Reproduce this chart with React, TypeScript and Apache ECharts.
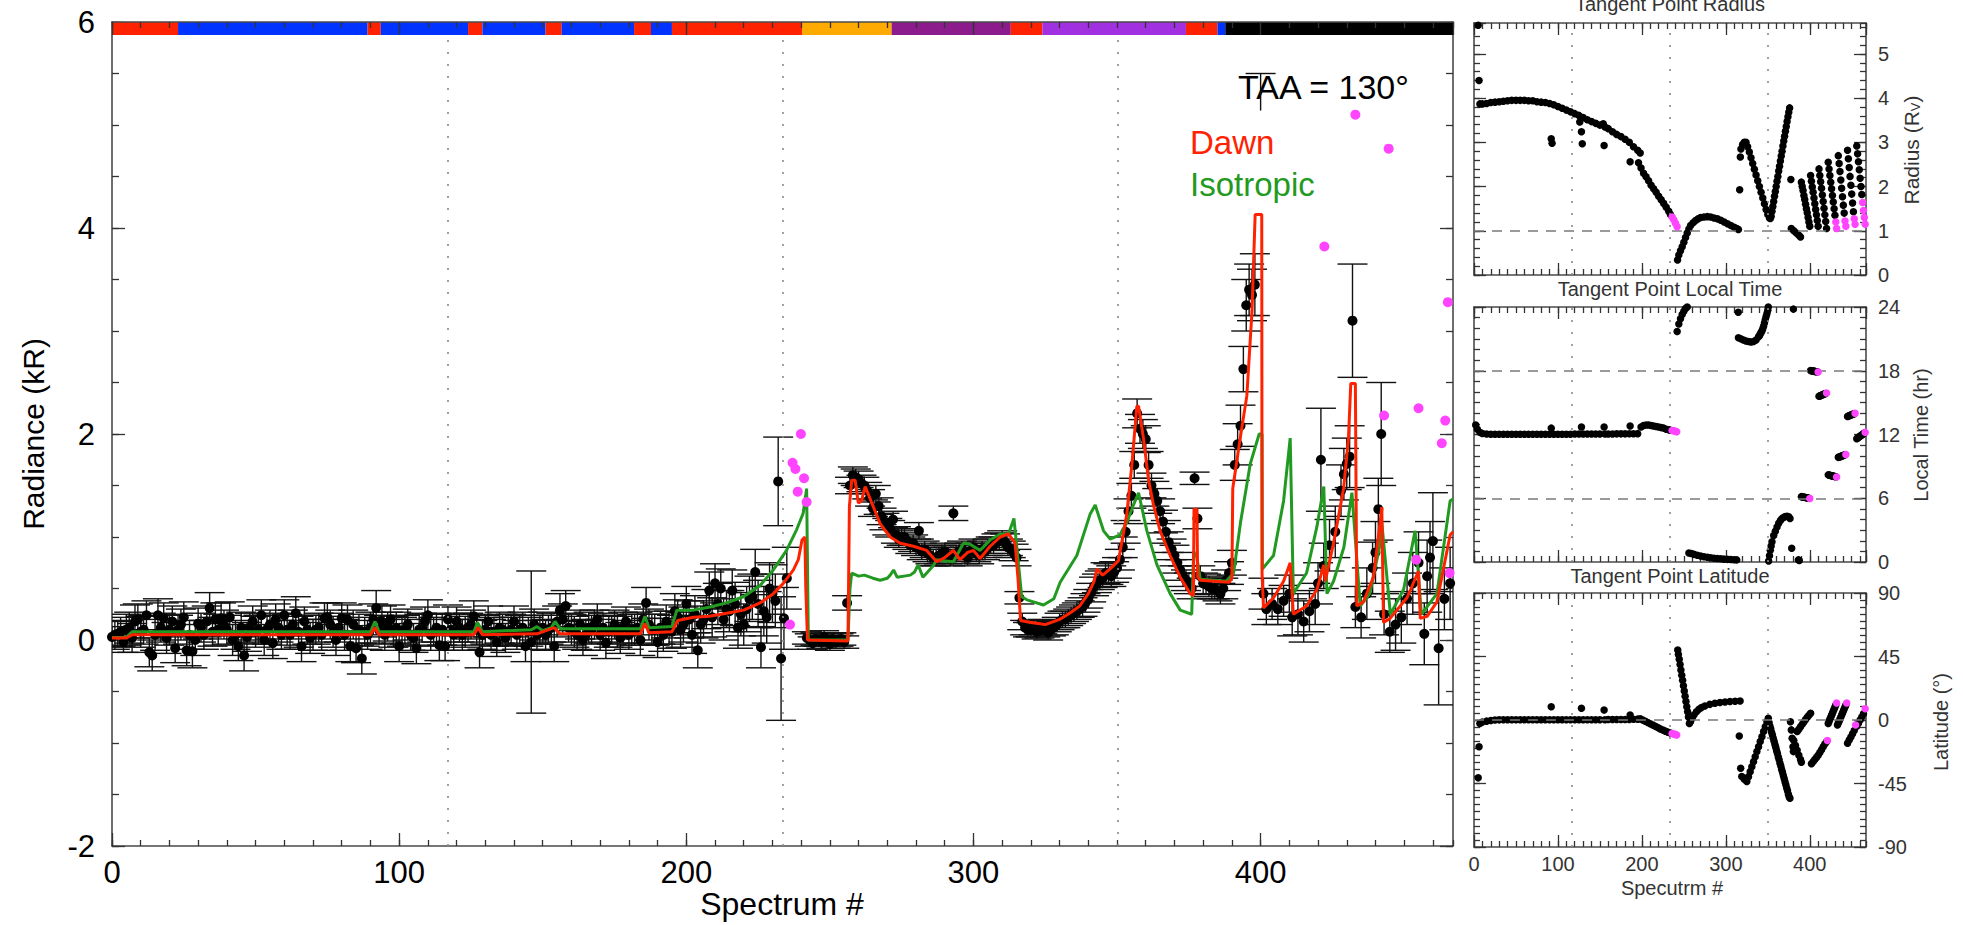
import React, { useEffect, useRef } from "react";
import * as echarts from "echarts";

const SPECTRUM_MAX = 467;
const FONT = "'Liberation Sans', Arial, Helvetica, sans-serif";

// quarter marks of the spectrum sequence
const quarterMarks = [116.75, 233.5, 350.25];

// observing-mode strip along the top of the radiance panel
const modeStart = [0, 23, 89, 93.6, 124, 129, 151, 156.6, 181.8, 187.7, 195, 240.3, 271.5, 313, 324, 374, 385, 387.7];
const modeEnd = [23, 89, 93.6, 124, 129, 151, 156.6, 181.8, 187.7, 195, 240.3, 271.5, 313, 324, 374, 385, 387.7, 467];
const modeColor = ["#ff2200", "#0033ff", "#ff2200", "#0033ff", "#ff2200", "#0033ff", "#ff2200", "#0033ff", "#ff2200", "#0033ff", "#ff2200", "#ffaa00", "#8c1c8c", "#ff2200", "#a030e0", "#ff2200", "#0033ff", "#000000"];

type Obs = [number, number, number];
type Pt = [number, number];

// [spectrum #, radiance kR, 1-sigma error]
const obsEarly: Obs[] = [
  [0, 0.03, 0.1], [2, 0.06, 0.12], [4, -0.02, 0.1], [6, 0.12, 0.15], [8, 0.18, 0.16], [10, 0.08, 0.15], [12, 0.24, 0.14], [13, -0.12, 0.14], [14, -0.15, 0.15], [16, 0.24, 0.16],
  [18, 0.21, 0.15], [20, 0.1, 0.15], [22, -0.08, 0.14], [24, 0.15, 0.15], [26, -0.1, 0.15], [28, -0.11, 0.16], [30, 0.16, 0.15], [32, 0.05, 0.14], [34, 0.31, 0.15], [36, 0.2, 0.16],
  [38, 0.21, 0.15], [40, 0.1, 0.14], [42, 0, 0.15], [44, -0.06, 0.14], [46, -0.15, 0.15], [48, 0.12, 0.14], [50, 0.08, 0.15], [52, 0.24, 0.15], [54, 0.1, 0.14], [56, -0.03, 0.15],
  [58, 0.12, 0.14], [60, 0.24, 0.15], [62, 0.05, 0.14], [64, 0.26, 0.16], [66, -0.06, 0.15], [68, 0.1, 0.14], [70, 0.05, 0.15], [72, 0.12, 0.14], [74, 0.21, 0.15], [76, 0.15, 0.14],
  [78, 0, 0.15], [80, 0.21, 0.15], [82, 0.2, 0.14], [83, -0.06, 0.15], [85, -0.08, 0.14], [87, -0.18, 0.15], [89, 0.05, 0.14], [92, 0.31, 0.17], [94, 0.18, 0.15], [96, 0.13, 0.14],
  [98, 0.08, 0.15], [100, -0.06, 0.15], [102, 0.1, 0.14], [104, 0.05, 0.15], [106, -0.08, 0.15], [108, 0.12, 0.14], [110, 0.24, 0.15], [112, 0.08, 0.14], [114, -0.05, 0.15], [116, -0.06, 0.14],
  [118, 0.1, 0.15], [120, 0.18, 0.14], [122, 0.05, 0.15], [124, 0.12, 0.14], [126, 0.23, 0.15], [128, -0.12, 0.15], [130, 0.1, 0.14], [132, 0.05, 0.15], [134, -0.02, 0.14], [136, 0.1, 0.15],
  [138, 0.08, 0.14], [140, 0.18, 0.15], [142, 0.1, 0.14], [144, -0.06, 0.15], [146, -0.02, 0.69], [148, 0.05, 0.14], [150, 0.12, 0.15], [152, 0.1, 0.14], [154, -0.06, 0.15], [156, 0.29, 0.16],
  [158, 0.33, 0.15], [160, 0.1, 0.15], [162, 0.05, 0.14], [164, 0, 0.15], [166, 0.12, 0.15], [168, 0.15, 0.14], [170, 0.05, 0.15], [172, -0.03, 0.15], [174, 0.1, 0.14], [176, 0.08, 0.15],
  [178, 0.12, 0.15], [180, 0.05, 0.14], [182, 0.1, 0.15], [184, 0, 0.15], [186, 0.36, 0.15], [188, 0.1, 0.15], [190, -0.02, 0.15], [192, 0.05, 0.16], [194, 0.12, 0.16], [196, 0.28, 0.17],
  [198, 0.1, 0.17], [200, 0.35, 0.17], [202, 0.05, 0.18], [204, -0.1, 0.17], [206, 0.2, 0.18], [208, 0.48, 0.18], [210, 0.55, 0.19], [212, 0.5, 0.19], [214, 0.3, 0.18], [216, 0.48, 0.2],
  [218, 0.12, 0.2], [220, 0.15, 0.2], [222, 0.4, 0.22], [224, 0.66, 0.22], [226, -0.07, 0.2], [228, 0.22, 0.25], [230, 0.45, 0.28], [232, 1.54, 0.43], [233, -0.18, 0.6], [234, 0.21, 0.3],
  [235, 0.6, 0.3],
];

// interleaved spectra of the same quiet stretch
const obsEarlyOdd: Obs[] = [
  [1, 0.05, 0.14], [3, 0.08, 0.14], [5, 0.1, 0.15], [7, 0.02, 0.14], [9, 0.2, 0.15], [11, 0.1, 0.14], [15, 0.05, 0.15], [17, 0.12, 0.14], [19, 0.02, 0.15], [21, 0.18, 0.15],
  [23, 0.1, 0.14], [25, 0.22, 0.15], [27, 0.05, 0.14], [29, 0, 0.15], [31, 0.12, 0.14], [33, 0.18, 0.15], [35, 0.08, 0.14], [37, 0.1, 0.15], [39, 0.15, 0.14], [41, 0.22, 0.15],
  [43, 0.05, 0.14], [45, 0.12, 0.15], [47, 0.03, 0.14], [49, 0.18, 0.15], [51, 0.1, 0.14], [53, 0, 0.15], [55, 0.15, 0.14], [57, 0.2, 0.15], [59, 0.05, 0.14], [61, 0.1, 0.15],
  [63, 0.15, 0.14], [65, 0.08, 0.15], [67, 0.18, 0.14], [69, 0.02, 0.15], [71, 0.1, 0.14], [73, 0.05, 0.15], [75, 0.22, 0.14], [77, 0.08, 0.15], [79, 0.12, 0.14], [81, 0.05, 0.15],
  [84, 0.15, 0.14], [86, 0.1, 0.15], [88, 0.08, 0.14], [90, 0.12, 0.15], [91, 0.2, 0.15], [93, 0.1, 0.14], [95, 0.05, 0.15], [97, 0.2, 0.14], [99, 0.12, 0.15], [101, 0.08, 0.14],
  [103, 0.15, 0.15], [105, 0.02, 0.14], [107, 0.1, 0.15], [109, 0.18, 0.14], [111, 0.05, 0.15], [113, 0.12, 0.14], [115, 0.1, 0.15], [117, 0.2, 0.14], [119, 0.05, 0.15], [121, 0.12, 0.14],
  [123, 0.08, 0.15], [125, 0.15, 0.14], [127, 0.1, 0.15], [129, 0.05, 0.14], [131, 0.18, 0.15], [133, 0.08, 0.14], [135, 0.12, 0.15], [137, 0.02, 0.14], [139, 0.1, 0.15], [141, 0.05, 0.14],
  [143, 0.12, 0.15], [145, 0.08, 0.14], [147, 0.15, 0.15], [149, 0.1, 0.14], [151, 0.05, 0.15], [153, 0.12, 0.14], [155, 0.18, 0.15], [157, 0.2, 0.15], [159, 0.12, 0.14], [161, 0.08, 0.15],
  [163, 0.15, 0.14], [165, 0.05, 0.15], [167, 0.1, 0.14], [169, 0.2, 0.15], [171, 0.12, 0.14], [173, 0.08, 0.15], [175, 0.15, 0.14], [177, 0.02, 0.15], [179, 0.18, 0.14], [181, 0.1, 0.15],
  [183, 0.12, 0.15], [185, 0.2, 0.15], [187, 0.15, 0.15], [189, 0.1, 0.15], [191, 0.12, 0.16], [193, 0.18, 0.16], [195, 0.08, 0.16], [197, 0.22, 0.17], [199, 0.15, 0.17], [201, 0.2, 0.18],
  [203, 0.25, 0.18], [205, 0.15, 0.18], [207, 0.3, 0.19], [209, 0.22, 0.19], [211, 0.35, 0.2], [213, 0.2, 0.2], [215, 0.28, 0.2], [217, 0.35, 0.21], [219, 0.25, 0.21], [221, 0.3, 0.22],
  [223, 0.42, 0.22], [225, 0.35, 0.23], [227, 0.28, 0.24], [229, 0.5, 0.25], [231, 0.38, 0.26],
];

const obsShadow: Obs[] = [
  [242, 0.02, 0.06], [243, 0, 0.06], [244, -0.03, 0.06], [245, 0.01, 0.06], [246, 0, 0.06], [247, -0.02, 0.06], [248, 0.03, 0.06], [249, 0, 0.06], [250, -0.04, 0.06], [251, 0.01, 0.06],
  [252, -0.02, 0.06], [253, 0, 0.06], [254, 0.01, 0.06], [255, -0.02, 0.06], [256, 0.36, 0.07],
];

const obsPlateau: Obs[] = [
  [257, 1.5, 0.08], [258, 1.6, 0.08], [259, 1.58, 0.08], [260, 1.56, 0.08], [261, 1.52, 0.08], [262, 1.5, 0.08], [263, 1.45, 0.08], [264, 1.38, 0.08], [265, 1.28, 0.08], [266, 1.42, 0.08],
  [267, 1.3, 0.08], [268, 1.2, 0.08], [269, 1.15, 0.08], [270, 1.1, 0.08], [271, 1.08, 0.08], [272, 1.17, 0.08], [273, 1.02, 0.08], [274, 0.98, 0.08], [275, 1.0, 0.08], [276, 1.0, 0.08],
  [277, 0.96, 0.08], [278, 0.92, 0.08], [279, 0.94, 0.08], [280, 0.9, 0.08], [281, 1.06, 0.08], [282, 0.86, 0.08], [283, 0.88, 0.08], [284, 0.84, 0.08], [285, 0.82, 0.08], [286, 0.8, 0.08],
  [287, 0.8, 0.08], [288, 0.82, 0.08], [289, 0.84, 0.08], [290, 0.86, 0.08], [291, 0.82, 0.08], [292, 0.8, 0.08], [293, 1.23, 0.07], [294, 0.84, 0.08], [295, 0.86, 0.08], [296, 0.88, 0.08],
  [297, 0.82, 0.08], [298, 0.8, 0.08], [299, 0.86, 0.08], [300, 0.9, 0.08], [301, 0.84, 0.08], [302, 0.82, 0.08], [303, 0.88, 0.08], [304, 0.86, 0.08], [305, 0.9, 0.08], [306, 0.92, 0.08],
  [307, 0.92, 0.08], [308, 0.95, 0.08], [309, 0.96, 0.08], [310, 0.98, 0.08], [311, 0.95, 0.08], [312, 0.9, 0.08], [313, 0.88, 0.08], [314, 0.85, 0.08], [315, 0.8, 0.08], [316, 0.41, 0.06],
  [317, 0.18, 0.08], [318, 0.12, 0.07], [319, 0.1, 0.07], [320, 0.1, 0.07], [321, 0.12, 0.07], [322, 0.08, 0.07], [323, 0.09, 0.07], [324, 0.13, 0.07], [325, 0.1, 0.07], [326, 0.07, 0.07],
  [327, 0.11, 0.07], [328, 0.12, 0.07], [329, 0.15, 0.07], [330, 0.18, 0.08],
];

const obsLimb: Obs[] = [
  [331, 0.2, 0.08], [332, 0.2, 0.08], [333, 0.22, 0.08], [334, 0.24, 0.08], [335, 0.26, 0.08], [336, 0.28, 0.08], [337, 0.3, 0.08], [338, 0.32, 0.09], [339, 0.36, 0.09], [340, 0.4, 0.09],
  [341, 0.46, 0.09], [342, 0.52, 0.09], [343, 0.55, 0.09], [344, 0.58, 0.09], [345, 0.6, 0.09], [346, 0.65, 0.1], [347, 0.64, 0.1], [348, 0.62, 0.1], [349, 0.66, 0.1], [350, 0.7, 0.1],
  [351, 0.78, 0.1], [352, 0.9, 0.1], [353, 1.05, 0.11], [354, 1.25, 0.12], [355, 1.4, 0.12], [356, 1.7, 0.13], [357, 2.2, 0.14], [358, 2.05, 0.14], [359, 2.0, 0.14], [360, 1.95, 0.13],
  [361, 1.7, 0.13], [362, 1.5, 0.12], [363, 1.42, 0.12], [364, 1.35, 0.12], [365, 1.25, 0.12], [366, 1.15, 0.11], [367, 1.05, 0.11], [368, 0.95, 0.1], [369, 0.88, 0.1], [370, 0.82, 0.1],
  [371, 0.75, 0.1], [372, 0.68, 0.1], [373, 0.62, 0.1], [374, 0.58, 0.1], [375, 0.55, 0.1], [376, 0.5, 0.1], [377, 1.57, 0.06], [378, 1.18, 0.1], [379, 0.62, 0.1], [380, 0.55, 0.1],
  [381, 0.54, 0.1], [382, 0.52, 0.1], [383, 0.5, 0.1], [384, 0.5, 0.1], [385, 0.48, 0.1], [386, 0.45, 0.1], [387, 0.5, 0.1], [388, 0.58, 0.1], [389, 0.65, 0.11], [390, 0.75, 0.12],
  [391, 1.7, 0.15], [392, 1.9, 0.2], [393, 2.08, 0.2], [394, 2.63, 0.22], [395, 3.25, 0.25], [396, 3.4, 0.25], [397, 3.35, 0.25], [398, 3.45, 0.3], [401, 0.45, 0.15], [402, 0.3, 0.15],
  [404, 0.35, 0.15], [406, 0.3, 0.15], [408, 0.38, 0.15], [410, 0.45, 0.18], [411, 0.22, 0.18], [413, 0.25, 0.2], [415, 0.18, 0.2], [417, 0.28, 0.2], [419, 0.35, 0.2], [420, 0.55, 0.2],
  [421, 1.75, 0.5], [422, 0.72, 0.22], [424, 0.92, 0.25], [426, 1.05, 0.25], [428, 1.45, 0.25], [429, 1.61, 0.25], [430, 1.71, 0.25], [431, 1.78, 0.3], [432, 3.1, 0.55], [433, 0.32, 0.2],
  [435, 0.22, 0.2], [437, 0.45, 0.25], [439, 0.7, 0.25], [440, 0.85, 0.3], [441, 1.27, 0.3], [442, 2.0, 0.5], [443, 0.25, 0.2], [445, 0.08, 0.2], [447, 0.15, 0.25], [449, 0.22, 0.25],
  [451, 0.4, 0.25], [453, 0.55, 0.3], [455, 0.75, 0.3], [457, 0.06, 0.3], [458, 0.62, 0.35], [459, 0.8, 0.35], [460, 0.96, 0.47], [462, -0.08, 0.55], [464, 0.4, 0.3], [466, 0.55, 0.35],
];

// bar segment whose point lies off the plotted range: [low, high] at spectrum 400
const strayBars: Pt[] = [[5.14, 5.5]];
const strayBarSpectra = [400];

// spectra flagged in magenta: [spectrum #, radiance kR]
const obsFlagged: Pt[] = [
  [236.1, 0.15], [237, 1.72], [238, 1.66], [238.8, 1.44], [239.9, 2.0], [241, 1.57], [241.9, 1.34], [422.2, 3.82], [433, 5.1], [443, 2.18],
  [444.6, 4.77], [454.2, 0.78], [455, 2.25], [463.1, 1.91], [464.3, 2.13], [465.2, 3.28], [465.8, 0.65],
];

// model brightness, dawn-enhanced source
const dawnModel: Pt[] = [
  [0, 0.02], [5, 0.02], [7, 0.05], [90, 0.05], [91.5, 0.12], [93, 0.05], [126, 0.05], [127.5, 0.12], [129, 0.05], [148, 0.06], [154, 0.12], [156, 0.06], [184, 0.06], [185.6, 0.16], [187, 0.07],
  [195, 0.08], [197, 0.19], [202.5, 0.22], [208, 0.23], [214, 0.26], [220, 0.29], [225.7, 0.36], [230.3, 0.45], [233.8, 0.55], [237.3, 0.68], [239, 0.78], [240.3, 0.97], [241.3, 1.0],
  [241.6, 0.52], [242.2, 0.0], [256.3, -0.01], [256.8, 1.3], [257.6, 1.55], [258.8, 1.55], [259.9, 1.33], [261, 1.35], [262.3, 1.49], [264.6, 1.33], [267.5, 1.13], [271, 1.0], [274.5, 0.94],
  [279.1, 0.91], [283.7, 0.87], [287.2, 0.76], [290, 0.8], [293, 0.87], [295.3, 0.78], [298, 0.85], [300, 0.87], [302.3, 0.79], [305.8, 0.91], [309.3, 1.0], [312.2, 1.03], [314.5, 0.94],
  [315.5, 0.6], [316.4, 0.19], [320, 0.17], [325, 0.15], [330, 0.2], [334, 0.27], [337, 0.33], [340, 0.45], [342, 0.57], [343, 0.69], [345, 0.63], [347.6, 0.69], [350.5, 0.77], [353.4, 1.22],
  [355.2, 1.71], [356.9, 2.27], [357.5, 2.27], [359.2, 1.96], [361, 1.55], [362.7, 1.31], [365, 1.06], [368.5, 0.82], [372, 0.61], [375.5, 0.45], [376.6, 0.43], [376.8, 1.27], [377.8, 1.27],
  [378.1, 0.61], [379, 0.58], [389, 0.56], [390, 0.6], [390.3, 1.47], [392.9, 1.96], [395.2, 2.37], [397, 3.19], [398.1, 4.13], [400.4, 4.13], [400.5, 0.65], [401, 0.31], [404.5, 0.41],
  [408, 0.57], [410.3, 0.75], [411.4, 0.25], [416, 0.33], [419.6, 0.49], [422, 0.73], [422.5, 0.57], [425.4, 0.94], [428.9, 1.47], [430.6, 1.96], [431.4, 2.49], [433, 2.49], [433.5, 0.33],
  [435.8, 0.37], [439.3, 0.61], [441.6, 1.14], [442.2, 1.29], [442.8, 0.17], [445.1, 0.21], [451, 0.41], [455, 0.67], [455.6, 0.21], [458, 0.23], [461.4, 0.37], [466, 1.02], [467, 1.05],
];

// model brightness, isotropic source
const isoModel: Pt[] = [
  [0, 0.025], [5, 0.025], [7, 0.08], [90, 0.08], [91.6, 0.18], [93, 0.08], [126, 0.08], [127.3, 0.17], [129, 0.08], [146, 0.1], [148, 0.13], [150, 0.09], [153, 0.12], [154.3, 0.18], [156, 0.11],
  [184, 0.11], [185.6, 0.23], [187, 0.12], [195, 0.13], [196.7, 0.29], [202.5, 0.29], [208.3, 0.32], [214, 0.36], [219.9, 0.42], [225.7, 0.53], [230.3, 0.68], [234.9, 0.87], [238.4, 1.07],
  [240.7, 1.23], [241.9, 1.47], [242.5, 0.0], [256.3, 0.0], [257, 0.5], [257.6, 0.65], [260, 0.62], [262, 0.63], [265, 0.6], [267.5, 0.58], [270, 0.6], [271, 0.63], [272.2, 0.68], [273.4, 0.61],
  [278, 0.63], [279.5, 0.66], [280.7, 0.73], [282.4, 0.61], [286, 0.72], [287.2, 0.78], [289.5, 0.77], [293, 0.76], [296.5, 0.94], [298.8, 0.93], [302.3, 0.87], [305.8, 0.97], [309.3, 1.03],
  [312.2, 1.03], [314.1, 1.18], [316.8, 0.42], [318.6, 0.39], [324.4, 0.34], [328, 0.4], [330.2, 0.56], [336, 0.82], [340.6, 1.22], [342.4, 1.31], [345.3, 1.06], [347.6, 0.98], [351, 1.02],
  [353.4, 1.14], [355.7, 1.31], [357.5, 1.43], [360.4, 1.06], [363.9, 0.73], [368.5, 0.45], [372, 0.29], [376, 0.25], [376.7, 0.86], [377.8, 0.8], [379, 0.59], [388, 0.57], [390.6, 0.65],
  [393, 1.14], [396.4, 1.71], [399.5, 2.0], [400.5, 2.0], [400.6, 0.69], [404.5, 0.82], [408, 1.35], [410.3, 1.96], [411.4, 0.45], [416, 0.65], [419.6, 1.1], [422, 1.49], [423.1, 0.45],
  [425.4, 0.57], [429, 0.9], [431.8, 1.43], [434.7, 0.33], [438, 0.45], [441.7, 0.94], [442.2, 1.14], [445.2, 0.25], [449.8, 0.49], [453.8, 1.06], [456, 0.25], [461.4, 0.45], [466, 1.35], [467, 1.37],
];

// tangent point radius (planet radii)
const radiusBlack: Pt[] = [
  [5, 5.65], [6, 4.4], [7, 3.87], [10, 3.87], [15, 3.88], [20, 3.9], [25, 3.91], [30, 3.92], [35, 3.93], [40, 3.94], [45, 3.95], [50, 3.95], [55, 3.95], [60, 3.95], [65, 3.94], [70, 3.94],
  [75, 3.92], [80, 3.91], [85, 3.9], [90, 3.88], [92, 3.08], [93, 2.98], [95, 3.85], [100, 3.81], [105, 3.77], [110, 3.73], [115, 3.69], [120, 3.65], [125, 3.61], [126, 3.46], [128, 3.24],
  [129, 2.97], [130, 3.56], [135, 3.51], [140, 3.47], [145, 3.43], [150, 3.39], [154, 3.42], [155, 2.93], [156, 3.35], [160, 3.31], [165, 3.24], [170, 3.18], [175, 3.13], [180, 3.07],
  [185, 3.0], [186, 2.56], [190, 2.9], [195, 2.82], [196, 2.54], [198, 2.76], [199, 2.42], [202, 2.3], [205, 2.22], [208, 2.13], [211, 2.03], [214, 1.95], [217, 1.87], [220, 1.78],
  [223, 1.7], [226, 1.62], [229, 1.53], [232, 1.44], [234, 1.37],
  [242.5, 0.34], [244, 0.45], [246, 0.55], [248, 0.64], [250, 0.74], [252, 0.85], [254, 0.95], [256, 1.04], [258, 1.12], [261, 1.18], [264, 1.23], [267, 1.27], [270, 1.3], [274, 1.31],
  [278, 1.32], [282, 1.31], [286, 1.29], [290, 1.27], [294, 1.24], [298, 1.2], [302, 1.16], [306, 1.12], [310, 1.08], [313, 1.05], [315, 1.03], [316.5, 1.93], [317.3, 2.67],
  [318, 2.85], [320, 2.95], [322, 3.0], [324, 3.0], [326, 2.9], [328, 2.78], [330, 2.65], [332, 2.52], [334, 2.39], [336, 2.26], [338, 2.13], [340, 2.0], [342, 1.87], [344, 1.74],
  [346, 1.61], [348, 1.48], [350, 1.37], [352, 1.29], [353, 1.28], [354, 1.33], [355, 1.44], [356, 1.55], [357, 1.66], [358, 1.78], [359, 1.89], [360, 2.0], [361, 2.12], [362, 2.23],
  [363, 2.35], [364, 2.46], [365, 2.58], [366, 2.69], [367, 2.8], [368, 2.92], [369, 3.03], [370, 3.14], [371, 3.25], [372, 3.36], [373, 3.47], [374, 3.58], [375, 3.68], [376, 3.78],
  [377.5, 2.16], [378, 1.05], [381, 1.0], [384, 0.95], [387, 0.9], [389, 0.86],
  [390, 2.1], [391, 2.0], [392, 1.91], [393, 1.8], [394, 1.71], [395, 1.6], [396, 1.5], [397, 1.41], [398, 1.3], [399, 1.2], [400, 1.1],
  [401, 2.25], [402, 2.12], [403, 1.99], [404, 1.87], [405, 1.74], [406, 1.61], [407, 1.48], [408, 1.36], [409, 1.23], [410, 1.1],
  [411, 2.4], [412, 2.25], [413, 2.11], [414, 1.96], [415, 1.81], [416, 1.66], [417, 1.51], [418, 1.36], [419, 1.21], [420, 1.05],
  [422, 2.55], [423, 2.4], [424, 2.25], [425, 2.1], [426, 1.95], [427, 1.8], [428, 1.65], [429, 1.5], [430, 1.35],
  [434, 2.7], [435, 2.52], [436, 2.34], [437, 2.15], [438, 1.96], [439, 1.77], [440, 1.58], [441, 1.4],
  [445, 2.82], [446, 2.63], [447, 2.43], [448, 2.23], [449, 2.03], [450, 1.83], [451, 1.63], [452, 1.43],
  [456, 2.92], [457, 2.74], [458, 2.56], [459, 2.38], [460, 2.19], [461, 2.0], [462, 1.82],
];
const radiusFlagged: Pt[] = [
  [236, 1.31], [238, 1.25], [240, 1.17], [242, 1.09], [431, 1.2], [432, 1.05], [442, 1.22], [443, 1.1], [453, 1.27], [454, 1.15], [463, 1.64], [464, 1.46], [465, 1.3], [466, 1.15],
];

// tangent point local time (hr)
const localTimeBlack: Pt[] = [
  [2, 12.9], [4, 12.5], [7, 12.2], [10, 12.1], [15, 12.05], [20, 12.03], [25, 12.02], [30, 12.02], [35, 12.02], [40, 12.02], [45, 12.02], [50, 12.02], [55, 12.02], [60, 12.02], [65, 12.02],
  [70, 12.02], [75, 12.03], [80, 12.03], [85, 12.03], [90, 12.03], [92, 12.6], [95, 12.03], [100, 12.03], [105, 12.03], [110, 12.03], [115, 12.03], [120, 12.04], [125, 12.04], [128, 12.7],
  [130, 12.04], [135, 12.04], [140, 12.04], [145, 12.05], [150, 12.05], [155, 12.7], [156, 12.05], [160, 12.05], [165, 12.05], [170, 12.06], [175, 12.06], [180, 12.06], [185, 12.07],
  [186, 12.8], [190, 12.07], [195, 12.08],
  [199, 12.7], [202, 12.85], [205, 12.9], [208, 12.9], [211, 12.85], [214, 12.8], [217, 12.75], [220, 12.7], [223, 12.65], [226, 12.6], [229, 12.5], [232, 12.45], [234, 12.4],
  [242, 21.7], [244, 22.4], [246, 22.9], [248, 23.3], [250, 23.6], [252, 23.85], [254, 24.0],
  [256, 0.85], [259, 0.8], [262, 0.72], [266, 0.64], [270, 0.57], [274, 0.5], [278, 0.45], [282, 0.4], [286, 0.36], [290, 0.33], [294, 0.3], [298, 0.27], [302, 0.25], [306, 0.23], [310, 0.21], [313, 0.2],
  [314.8, 23.5],
  [315, 21.1], [318, 21.0], [321, 20.9], [324, 20.8], [327, 20.75], [330, 20.7], [333, 20.75], [336, 20.9], [339, 21.2], [340, 21.3], [341, 21.45], [342, 21.6], [343, 21.75], [344, 21.95],
  [345, 22.2], [346, 22.5], [347, 22.8], [348, 23.1], [349, 23.4], [350, 23.7], [350.6, 24.0],
  [351, 0.1], [352, 0.6], [353, 1.1], [354, 1.5], [355, 1.9], [357, 2.5], [359, 2.9], [361, 3.3], [363, 3.65], [365, 3.9], [367, 4.1], [369, 4.2], [371, 4.28], [373, 4.3], [375, 4.25], [376.5, 4.1],
  [378.5, 1.3], [380.5, 23.8], [386.4, 0.2], [387.5, 0.15],
  [390, 6.15], [391, 6.13], [392, 6.12], [393, 6.1], [394, 6.09], [395, 6.07], [396, 6.05], [397, 6.04], [398, 6.02], [399, 6.0],
  [401, 18.02], [402, 18.0], [403, 17.99], [404, 17.97], [405, 17.96], [406, 17.94], [407, 17.93], [408, 17.91], [409, 17.9],
  [411, 15.6], [412, 15.63], [413, 15.66], [414, 15.7], [415, 15.73], [416, 15.76], [417, 15.8], [418, 15.83], [419, 15.86],
  [422, 8.2], [423, 8.18], [424, 8.16], [425, 8.14], [426, 8.12], [427, 8.1], [428, 8.08], [429, 8.06], [430, 8.04], [431, 8.02],
  [434, 9.85], [435, 9.88], [436, 9.91], [437, 9.94], [438, 9.97], [439, 10.0], [440, 10.03], [441, 10.06], [442, 10.09],
  [445, 13.7], [446, 13.73], [447, 13.76], [448, 13.8], [449, 13.83], [450, 13.86], [451, 13.9], [452, 13.93], [453, 13.96],
  [456, 11.6], [457, 11.66], [458, 11.72], [459, 11.78], [460, 11.84], [461, 11.9], [462, 11.96], [463, 12.02], [464, 12.08], [465, 12.14],
];
const localTimeFlagged: Pt[] = [
  [236, 12.38], [238, 12.35], [240, 12.3], [241.5, 12.25], [400, 5.98], [410, 17.88], [420, 15.9], [432, 8.0], [443, 10.12], [454, 14.0], [466, 12.2],
];

// tangent point latitude (deg)
const latitudeBlack: Pt[] = [
  [5, -41], [6, -19], [7, -2.4], [10, -1.5], [15, -0.8], [20, -0.3], [25, 0], [30, 0.1], [35, 0.2], [40, 0.2], [45, 0.2], [50, 0.2], [55, 0.2], [60, 0.2], [65, 0.2], [70, 0.2], [75, 0.2],
  [80, 0.2], [85, 0.2], [90, 0.2], [92, 9.4], [95, 0.2], [100, 0.2], [105, 0.2], [110, 0.2], [115, 0.2], [120, 0.2], [125, 0.2], [128, 8.3], [130, 0.2], [135, 0.2], [140, 0.2], [145, 0.2],
  [150, 0.2], [155, 7.1], [156, 0.2], [160, 0.3], [165, 0.3], [170, 0.3], [175, 0.3], [180, 0.3], [185, 0.4], [186, 3.5], [190, 0.5], [195, 0.6],
  [198, 0.8], [201, 0], [204, -0.9], [207, -1.8], [210, -2.7], [213, -3.6], [216, -4.5], [219, -5.4], [222, -6.3], [225, -7.1], [228, -7.9], [231, -8.6], [234, -9.2],
  [242.7, 49.6], [243.5, 46.5], [244.5, 43], [245.5, 39.3], [246.5, 35.5], [247.5, 31.8], [248.5, 28.1], [249.5, 24.3], [250.5, 20.6], [251.5, 16.8], [252.5, 13.1], [253.5, 9.4],
  [254.5, 5.8], [255.5, 2.1], [256.6, -2.4], [258, -1], [260, 1.5], [262, 3.5], [265, 5.9], [268, 7.6], [271, 8.8], [275, 9.9], [281, 11.1], [287, 11.9], [293, 12.4], [299, 12.8],
  [305, 13.1], [311, 13.3], [317, 13.5],
  [316, -11.3], [317.7, -34.2],
  [319, -40], [322, -42], [325, -43.6], [327, -40.2], [329, -36.6], [331, -33.1], [333, -29.5], [335, -26.0], [337, -22.4], [339, -18.9], [341, -15.3], [343, -11.8], [345, -8.2],
  [347, -4.7], [349, -1.2], [350.6, 1.2], [351.5, -1.8], [352.5, -4.2], [353.5, -6.2], [354.5, -8.6], [355.5, -10.6], [356.5, -13.0], [357.5, -15.0], [358.5, -17.4], [359.5, -19.4],
  [360.5, -21.8], [361.5, -23.8], [362.5, -26.2], [363.5, -28.2], [364.5, -30.6], [365.5, -32.6], [366.5, -35.0], [367.5, -37.0], [368.5, -39.4], [369.5, -41.4], [370.5, -43.8],
  [371.5, -45.8], [372.5, -48.2], [373.5, -50.2], [374.5, -52.6], [375.5, -54.6], [376.4, -55.5],
  [377, -1.2], [378, -7], [379, -13], [380, -19], [380.5, -22.4],
  [381, -14.6], [383, -18], [385, -21.5], [387, -25], [389, -28], [390, -29.9],
  [385, -8.2], [387, -6.5], [389, -4.8], [391, -3.1], [393, -1.4], [395, 0.3], [397, 2], [399, 3.4], [401, 4.7],
  [402, -31], [404, -29.5], [406, -28], [408, -26.5], [410, -25], [412, -23], [414, -21], [416, -19], [418, -17], [420, -15.5],
  [422, -2.4], [423, -1], [424, 0.5], [425, 2], [426, 3.4], [427, 4.8], [428, 6.3], [429, 7.7], [430, 9.2], [431, 10.6],
  [433, -3.6], [434, -2.2], [435, -0.8], [436, 0.7], [437, 2.1], [438, 3.5], [439, 5], [440, 6.4], [441, 7.8], [442, 9.3], [443, 10.7],
  [445, -16.5], [447, -14.2], [449, -12], [451, -9.8], [453, -7.5], [456, -4.5], [458, -2.3], [460, 0], [462, 2.2], [464, 4.5],
];
const latitudeFlagged: Pt[] = [
  [236, -9.6], [238, -10], [240, -10.3], [241.5, -10.6], [421, -14.5], [432, 12], [444, 12.1], [454.6, -3.6], [466, 8],
];

const AXIS_LINE = { color: "#4a4a4a", width: 1.6 };
const TICK_STYLE = { color: "#333", width: 1.3 };

function axisPair(grid: number, pos: string, min: number, max: number, major: number, minor: number, majorLen: number, minorLen: number, label: any, z: number) {
  const common = { type: "value", gridIndex: grid, position: pos, min, max, splitLine: { show: false }, z };
  return [
    {
      ...common,
      interval: major,
      axisLine: { show: true, onZero: false, lineStyle: AXIS_LINE },
      axisTick: { show: true, inside: true, length: majorLen, lineStyle: TICK_STYLE },
      axisLabel: label ?? { show: false },
    },
    {
      ...common,
      interval: minor,
      axisLine: { show: false, onZero: false },
      axisTick: { show: true, inside: true, length: minorLen, lineStyle: TICK_STYLE },
      axisLabel: { show: false },
    },
  ];
}

const mainLabel = { show: true, fontSize: 31, fontFamily: FONT, color: "#000" };
const panelLabel = { show: true, fontSize: 20, fontFamily: FONT, color: "#333" };

function buildOption() {
  const grids = [
    { left: 112, top: 22, width: 1341, height: 824 },
    { left: 1474, top: 23, width: 392, height: 252 },
    { left: 1474, top: 307, width: 392, height: 255 },
    { left: 1474, top: 593, width: 392, height: 254 },
  ];

  const panelY = [
    { min: 0, max: 5.7, major: 1, minor: 0.2, showMax: false },
    { min: 0, max: 24, major: 6, minor: 1, showMax: true },
    { min: -90, max: 90, major: 45, minor: 5, showMax: true },
  ];

  const xAxis: any[] = [
    ...axisPair(0, "bottom", 0, SPECTRUM_MAX, 100, 10, 13, 6, { ...mainLabel, margin: 11, showMaxLabel: false }, 1),
    ...axisPair(0, "top", 0, SPECTRUM_MAX, 100, 10, 13, 6, null, 10),
  ];
  const yAxis: any[] = [
    ...axisPair(0, "left", -2, 6, 2, 0.5, 13, 7, { ...mainLabel, margin: 17 }, 1),
    ...axisPair(0, "right", -2, 6, 2, 0.5, 13, 7, null, 1),
  ];
  panelY.forEach((p, i) => {
    const g = i + 1;
    const bottomLabel = g === 3 ? { ...panelLabel, margin: 7, showMaxLabel: false } : null;
    xAxis.push(
      ...axisPair(g, "bottom", 0, SPECTRUM_MAX, 100, 10, 12, 6, bottomLabel, 1),
      ...axisPair(g, "top", 0, SPECTRUM_MAX, 100, 10, 12, 6, null, 1),
    );
    yAxis.push(
      ...axisPair(g, "left", p.min, p.max, p.major, p.minor, 12, 6, null, 1),
      ...axisPair(g, "right", p.min, p.max, p.major, p.minor, 12, 6, { ...panelLabel, margin: 12, showMaxLabel: p.showMax }, 1),
    );
  });

  const dotted = { type: [2, 10], color: "#8a8a8a", width: 1.6 };
  const dashed = { type: [10, 8], color: "#7a7a7a", width: 1.6 };
  const marks = (hLines: number[]) => ({
    silent: true,
    symbol: "none",
    label: { show: false },
    animation: false,
    data: [
      ...quarterMarks.map((v) => ({ xAxis: v, lineStyle: dotted })),
      ...hLines.map((v) => ({ yAxis: v, lineStyle: dashed })),
    ],
  });

  const allObs = [...obsEarly, ...obsEarlyOdd, ...obsShadow, ...obsPlateau, ...obsLimb];
  const errorBars = [
    ...allObs.map(([x, y, e]) => [x, y - e, y + e, 1]),
    ...strayBarSpectra.map((x, i) => [x, strayBars[i][0], strayBars[i][1], 2]),
  ];

  const scatter = (grid: number, data: Pt[], color: string, size: number, z: number, markLine?: any) => ({
    type: "scatter",
    xAxisIndex: grid * 4,
    yAxisIndex: grid * 4,
    data,
    symbol: "circle",
    symbolSize: size,
    itemStyle: { color, opacity: 1 },
    silent: true,
    z,
    ...(markLine ? { markLine } : {}),
  });

  const series: any[] = [
    {
      type: "custom",
      xAxisIndex: 0,
      yAxisIndex: 0,
      z: 3,
      silent: true,
      clip: true,
      data: errorBars,
      encode: { x: 0, y: [1, 2] },
      renderItem: (_params: any, api: any) => {
        const x = api.value(0);
        const lo = api.coord([x, api.value(1)]);
        const hi = api.coord([x, api.value(2)]);
        const half = 15;
        const style = { stroke: "#111", lineWidth: 1.4 };
        const children: any[] = [
          { type: "line", shape: { x1: lo[0], y1: lo[1], x2: hi[0], y2: hi[1] }, style },
          { type: "line", shape: { x1: hi[0] - half, y1: hi[1], x2: hi[0] + half, y2: hi[1] }, style },
        ];
        if (api.value(3) !== 2) {
          children.push({ type: "line", shape: { x1: lo[0] - half, y1: lo[1], x2: lo[0] + half, y2: lo[1] }, style });
        }
        return { type: "group", children };
      },
    },
    scatter(0, allObs.map(([x, y]) => [x, y] as Pt), "#000", 10, 4, marks([])),
    {
      type: "line",
      xAxisIndex: 0,
      yAxisIndex: 0,
      data: isoModel,
      showSymbol: false,
      silent: true,
      z: 5,
      lineStyle: { color: "#229a22", width: 3 },
    },
    {
      type: "line",
      xAxisIndex: 0,
      yAxisIndex: 0,
      data: dawnModel,
      showSymbol: false,
      silent: true,
      z: 6,
      lineStyle: { color: "#ff2200", width: 3 },
    },
    scatter(0, obsFlagged, "#ff44ff", 10, 7),
    {
      type: "custom",
      xAxisIndex: 0,
      yAxisIndex: 0,
      z: 8,
      silent: true,
      data: modeStart.map((s, i) => [s, modeEnd[i], i]),
      renderItem: (_params: any, api: any) => {
        const a = api.coord([api.value(0), 6]);
        const b = api.coord([api.value(1), 6]);
        return {
          type: "rect",
          shape: { x: a[0], y: a[1], width: b[0] - a[0], height: 13 },
          style: { fill: modeColor[api.value(2)] },
        };
      },
    },
    scatter(1, radiusBlack, "#000", 7.5, 4, marks([1])),
    scatter(1, radiusFlagged, "#ff44ff", 7.5, 5),
    scatter(2, localTimeBlack, "#000", 7.5, 4, marks([6, 18])),
    scatter(2, localTimeFlagged, "#ff44ff", 7.5, 5),
    scatter(3, latitudeBlack, "#000", 7.5, 4, marks([0])),
    scatter(3, latitudeFlagged, "#ff44ff", 7.5, 5),
  ];

  const txt = (text: string, x: number, y: number, size: number, fill: string, align = "center", rotation = 0, rich?: any) => ({
    type: "text",
    x,
    y,
    rotation,
    silent: true,
    style: {
      text,
      fill,
      fontSize: size,
      fontFamily: FONT,
      align,
      verticalAlign: "middle",
      textAlign: align,
      textVerticalAlign: "middle",
      ...(rich ? { rich } : {}),
    },
  });

  const graphic = [
    txt("Radiance (kR)", 33, 434, 30, "#000", "center", Math.PI / 2),
    txt("Spectrum #", 782, 904, 32, "#000"),
    txt("TAA = 130°", 1238, 87, 34, "#000", "left"),
    txt("Dawn", 1190, 142, 33, "#ff2200", "left"),
    txt("Isotropic", 1190, 184, 33, "#229a22", "left"),
    txt("Tangent Point Radius", 1670, 4, 20, "#333"),
    txt("Tangent Point Local Time", 1670, 289, 20, "#333"),
    txt("Tangent Point Latitude", 1670, 576, 20, "#333"),
    txt("Specutrm #", 1672, 888, 20, "#333"),
    txt("Radius (R{sub|V})", 1911, 150, 21, "#333", "center", Math.PI / 2, {
      sub: { fontSize: 13, fontFamily: FONT, fill: "#333", verticalAlign: "bottom", padding: [9, 0, 0, 0] },
    }),
    txt("Local Time (hr)", 1921, 435, 20, "#333", "center", Math.PI / 2),
    txt("Latitude (°)", 1941, 722, 20, "#333", "center", Math.PI / 2),
  ];

  return {
    animation: false,
    backgroundColor: "#ffffff",
    grid: grids,
    xAxis,
    yAxis,
    series,
    graphic,
  };
}

export default function App() {
  const ref = useRef<HTMLDivElement>(null);
  useEffect(() => {
    if (!ref.current) return;
    const chart = echarts.init(ref.current, undefined, { renderer: "svg" });
    chart.setOption(buildOption() as any);
    return () => chart.dispose();
  }, []);
  return (
    <div
      ref={ref}
      style={{ position: "absolute", left: 0, top: 0, width: 1963, height: 925, background: "#fff" }}
    />
  );
}
